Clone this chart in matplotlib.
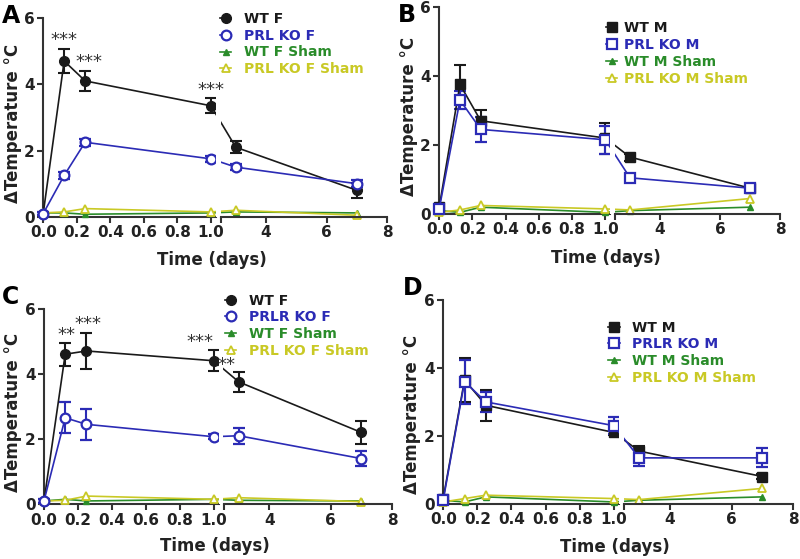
import numpy as np
import matplotlib
matplotlib.use("Agg")
import matplotlib.pyplot as plt

# time points (days)
days = [0, 0.125, 0.25, 1, 3, 7]

# A: females, PRL KO
a_wt = [0.1, 4.7, 4.1, 3.35, 2.1, 0.8]
a_wt_err = [0.05, 0.35, 0.3, 0.22, 0.18, 0.22]
a_ko = [0.1, 1.25, 2.25, 1.75, 1.5, 1.0]
a_ko_err = [0.05, 0.1, 0.1, 0.1, 0.1, 0.1]
a_wt_sham = [0.12, 0.12, 0.08, 0.12, 0.15, 0.12]
a_ko_sham = [0.12, 0.15, 0.25, 0.15, 0.2, 0.05]

# B: males, PRL KO
b_wt = [0.2, 3.75, 2.7, 2.2, 1.65, 0.75]
b_wt_err = [0.05, 0.55, 0.3, 0.45, 0.1, 0.08]
b_ko = [0.15, 3.3, 2.45, 2.15, 1.05, 0.75]
b_ko_err = [0.05, 0.25, 0.35, 0.4, 0.05, 0.05]
b_wt_sham = [0.1, 0.05, 0.2, 0.05, 0.1, 0.2]
b_ko_sham = [0.05, 0.12, 0.25, 0.15, 0.12, 0.45]

# C: females, PRLR KO
c_wt = [0.1, 4.6, 4.7, 4.4, 3.75, 2.2]
c_wt_err = [0.05, 0.35, 0.55, 0.32, 0.32, 0.35]
c_ko = [0.1, 2.65, 2.45, 2.07, 2.1, 1.4]
c_ko_err = [0.05, 0.48, 0.48, 0.08, 0.25, 0.22]
c_wt_sham = [0.1, 0.15, 0.1, 0.15, 0.12, 0.1]
c_ko_sham = [0.1, 0.12, 0.25, 0.15, 0.2, 0.08]

# D: males, PRLR KO
d_wt = [0.15, 3.65, 2.9, 2.1, 1.55, 0.8]
d_wt_err = [0.05, 0.65, 0.45, 0.08, 0.15, 0.08]
d_ko = [0.1, 3.6, 3.0, 2.3, 1.35, 1.35]
d_ko_err = [0.05, 0.65, 0.3, 0.25, 0.25, 0.28]
d_wt_sham = [0.1, 0.05, 0.2, 0.05, 0.1, 0.2]
d_ko_sham = [0.05, 0.15, 0.25, 0.15, 0.12, 0.45]

BLACK = "#1a1a1a"
BLUE = "#2b2bb5"
GREEN = "#2a8c2a"
YELLOW = "#c9c925"
AXC = "#333333"

# broken x axis: 0..1.03 linear, small gap, then 2.5..8 compressed
bx = [-100, 0, 1.03, 2.5, 8, 100]
by = [-100, 0, 1.03, 1.058, 2.051, 2.051 + 92 * (0.993 / 5.5)]


def fwd(x):
    return np.interp(x, bx, by)


def inv(y):
    return np.interp(y, by, bx)


fig = plt.figure(figsize=(8, 5.59), dpi=100)


def panel(rect, letter, letter_xy, wt, wt_err, ko, ko_err, wt_sham, ko_sham,
          labels, wt_marker, stars, leg_xy, leg_pad, ylab_y):
    ax = fig.add_axes(rect)
    ax.set_xscale("function", functions=(fwd, inv))
    ax.set_xlim(0, 8)
    ax.set_ylim(0, 6)

    h1 = ax.errorbar(days, wt, yerr=wt_err, color=BLACK, marker=wt_marker, ms=7,
                     mfc=BLACK, mec=BLACK, lw=1.2, elinewidth=1.5, capsize=4,
                     capthick=1.5, clip_on=False, zorder=3)
    ko_marker = "o" if wt_marker == "o" else "s"
    h2 = ax.errorbar(days, ko, yerr=ko_err, color=BLUE, marker=ko_marker, ms=7,
                     mfc="white", mec=BLUE, mew=1.6, lw=1.2, elinewidth=1.5,
                     capsize=4, capthick=1.5, clip_on=False, zorder=3)
    h3, = ax.plot(days, wt_sham, color=GREEN, marker="^", ms=5, lw=1.2,
                  clip_on=False, zorder=3)
    h4, = ax.plot(days, ko_sham, color=YELLOW, marker="^", ms=6, mfc="white",
                  mew=1.3, lw=1.2, clip_on=False, zorder=3)

    # hide lines across the axis break
    ax.axvspan(1.035, 2.48, color="white", zorder=3.5, lw=0)

    for sx, sy, s in stars:
        ax.text(sx, sy, s, ha="center", va="center", fontsize=13,
                color="#333333", zorder=5)

    for side in ["top", "right"]:
        ax.spines[side].set_visible(False)
    for side in ["left", "bottom"]:
        ax.spines[side].set_color(AXC)
        ax.spines[side].set_linewidth(1.5)
    ax.spines["bottom"].set_bounds(0, 1.03)
    ax.plot([2.5, 8], [0, 0], transform=ax.get_xaxis_transform(), color=AXC,
            lw=1.5, clip_on=False, zorder=4)

    ax.set_xticks([0, 0.2, 0.4, 0.6, 0.8, 1.0, 2.5, 4, 6, 8])
    ax.set_xticklabels(["0.0", "0.2", "0.4", "0.6", "0.8", "1.0", "", "4", "6", "8"])
    ax.set_yticks([0, 2, 4, 6])
    ax.tick_params(axis="both", colors=AXC, width=1.5, length=4, pad=2,
                   labelsize=11, labelcolor="#222222")
    for t in ax.get_xticklabels() + ax.get_yticklabels():
        t.set_fontweight("bold")

    ax.set_xlabel("Time (days)", fontsize=12, fontweight="bold", color="#222222")
    ax.xaxis.set_label_coords(0.49, -0.17)
    ax.set_ylabel("\u0394Temperature \u00b0C", fontsize=12, fontweight="bold",
                  color="#222222")
    ax.yaxis.set_label_coords(-0.063, ylab_y)

    leg = ax.legend([h1.lines[0], h2.lines[0], h3, h4], labels, loc="upper left",
                    bbox_to_anchor=leg_xy, frameon=False, handlelength=0.8,
                    handletextpad=leg_pad, borderpad=0, borderaxespad=0,
                    labelspacing=0.2, labelcolor="linecolor",
                    prop={"weight": "bold", "size": 10})
    leg.set_zorder(6)

    fig.text(letter_xy[0], letter_xy[1], letter, fontsize=17, fontweight="bold",
             ha="left", va="center")
    return ax


panel([0.054, 0.612, 0.430, 0.356], "A", (0.002, 0.972),
      a_wt, a_wt_err, a_ko, a_ko_err, a_wt_sham, a_ko_sham,
      ["WT F", "PRL KO F", "WT F Sham", "PRL KO F Sham"], "o",
      [(0.125, 5.33, "***"), (0.27, 4.67, "***"), (1.0, 3.83, "***")],
      (0.515, 1.03), 0.9, 0.47)

panel([0.549, 0.617, 0.426, 0.371], "B", (0.497, 0.973),
      b_wt, b_wt_err, b_ko, b_ko_err, b_wt_sham, b_ko_sham,
      ["WT M", "PRL KO M", "WT M Sham", "PRL KO M Sham"], "s",
      [], (0.49, 0.93), 0.5, 0.47)

panel([0.055, 0.098, 0.435, 0.350], "C", (0.002, 0.469),
      c_wt, c_wt_err, c_ko, c_ko_err, c_wt_sham, c_ko_sham,
      ["WT F", "PRLR KO F", "WT F Sham", "PRL KO F Sham"], "o",
      [(0.13, 5.18, "**"), (0.26, 5.54, "***"), (0.92, 4.98, "***"),
       (2.6, 4.26, "**")],
      (0.52, 1.077), 0.9, 0.47)

panel([0.554, 0.099, 0.4375, 0.364], "D", (0.504, 0.484),
      d_wt, d_wt_err, d_ko, d_ko_err, d_wt_sham, d_ko_sham,
      ["WT M", "PRLR KO M", "WT M Sham", "PRL KO M Sham"], "s",
      [], (0.472, 0.90), 0.9, 0.44)

fig.savefig("out.png", dpi=100)
